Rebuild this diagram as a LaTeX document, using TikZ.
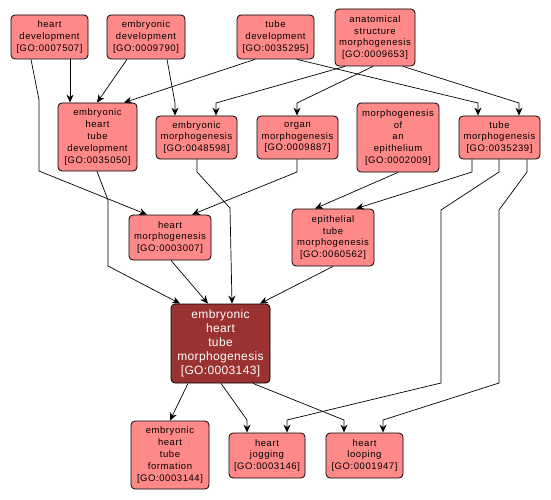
\documentclass[tikz,border=0pt]{standalone}
\usepackage{fontspec}
\newfontfamily\gofont[LetterSpace=6]{Liberation Sans}
\newfontfamily\gomainfont[LetterSpace=3]{Liberation Sans}
\usetikzlibrary{arrows.meta}
\definecolor{termfill}{RGB}{255,137,137}
\definecolor{mainfill}{RGB}{155,50,50}

\begin{document}
\begin{tikzpicture}[x=1pt,y=-1pt,
                    every node/.style={draw,line width=0.8pt,rounded corners=4pt,fill=termfill,
                                       align=center,inner sep=0pt,
                                       font=\gofont\fontsize{9.5}{11.8}\selectfont},
                    mainterm/.style={fill=mainfill,text=white,
                                     font=\gomainfont\fontsize{12}{14}\selectfont},
                    arr/.style={-{Stealth[length=8pt,width=7pt]},line width=0.7pt}]
  \useasboundingbox (0,0) rectangle (551,500);
  % top row
  \node[minimum width=77pt,minimum height=44pt] (hd)  at (49.5,37)  {heart\\development\\{}[GO:0007507]};
  \node[minimum width=78pt,minimum height=44pt] (ed)  at (146,37)   {embryonic\\development\\{}[GO:0009790]};
  \node[minimum width=77pt,minimum height=44pt] (td)  at (275.5,37) {tube\\development\\{}[GO:0035295]};
  \node[minimum width=80pt,minimum height=57pt] (asm) at (375,37.5) {anatomical\\structure\\morphogenesis\\{}[GO:0009653]};
  % second row
  \node[minimum width=79pt,minimum height=68pt] (ethd) at (97.5,137)  {embryonic\\heart\\tube\\development\\{}[GO:0035050]};
  \node[minimum width=81pt,minimum height=43pt] (em)   at (196.5,137.5) {embryonic\\morphogenesis\\{}[GO:0048598]};
  \node[minimum width=81pt,minimum height=43pt] (om)   at (297.5,137.5) {organ\\morphogenesis\\{}[GO:0009887]};
  \node[minimum width=82pt,minimum height=69pt] (moe)  at (398,137.5)   {morphogenesis\\of\\an\\epithelium\\{}[GO:0002009]};
  \node[minimum width=81pt,minimum height=43pt] (tm)   at (499.5,137.5) {tube\\morphogenesis\\{}[GO:0035239]};
  % third row
  \node[minimum width=82pt,minimum height=45pt] (hm)  at (170,237.5) {heart\\morphogenesis\\{}[GO:0003007]};
  \node[minimum width=82pt,minimum height=57pt] (etm) at (333,237.5) {epithelial\\tube\\morphogenesis\\{}[GO:0060562]};
  % the term itself
  \node[mainterm,minimum width=99pt,minimum height=79pt] (ethm) at (220.5,343.5) {embryonic\\heart\\tube\\morphogenesis\\{}[GO:0003143]};
  % children
  \node[minimum width=78pt,minimum height=68pt] (ethf) at (170,455)   {embryonic\\heart\\tube\\formation\\{}[GO:0003144]};
  \node[minimum width=76pt,minimum height=45pt] (hj)   at (267,455.5) {heart\\jogging\\{}[GO:0003146]};
  \node[minimum width=77pt,minimum height=45pt] (hl)   at (364.5,455.5) {heart\\looping\\{}[GO:0001947]};

  \draw[arr] (70,0 |- hd.south) -- (70,0 |- ethd.north);
  \draw[arr] (31,0 |- hd.south) -- (39,100) -- (39,171) -- (147,0 |- hm.north);
  \draw[arr] (127,0 |- ed.south) -- (97,0 |- ethd.north);
  \draw[arr] (167,0 |- ed.south) -- (175,103) -- (175,0 |- em.north);
  \draw[arr] (255,0 |- td.south) -- (124,0 |- ethd.north);
  \draw[arr] (297,0 |- td.south) -- (478,103) -- (478,0 |- tm.north);
  \draw[arr] (345,0 |- asm.south) -- (216,103) -- (216,0 |- em.north);
  \draw[arr] (373,0 |- asm.south) -- (297,103) -- (297,0 |- om.north);
  \draw[arr] (403,0 |- asm.south) -- (519,103) -- (519,0 |- tm.north);
  \draw[arr] (97,0 |- ethd.south) -- (108,200) -- (108,266) -- (180,0 |- ethm.north);
  \draw[arr] (197,0 |- em.south) -- (197,172) -- (230,208) -- (232,0 |- ethm.north);
  \draw[arr] (297,0 |- om.south) -- (297,172) -- (192,0 |- hm.north);
  \draw[arr] (398,0 |- moe.south) -- (315,0 |- etm.north);
  \draw[arr] (472,0 |- tm.south) -- (472,172) -- (356,0 |- etm.north);
  \draw[arr] (499,0 |- tm.south) -- (499,172) -- (441,210) -- (441,383) -- (287,420) -- (287,0 |- hj.north);
  \draw[arr] (527,0 |- tm.south) -- (527,172) -- (499,210) -- (499,383) -- (383,420) -- (383,0 |- hl.north);
  \draw[arr] (171,0 |- hm.south) -- (208,0 |- ethm.north);
  \draw[arr] (333,0 |- etm.south) -- (260,0 |- ethm.north);
  \draw[arr] (188,0 |- ethm.south) -- (170,0 |- ethf.north);
  \draw[arr] (221,0 |- ethm.south) -- (247,420) -- (247,0 |- hj.north);
  \draw[arr] (253,0 |- ethm.south) -- (344,420) -- (344,0 |- hl.north);
\end{tikzpicture}
\end{document}
